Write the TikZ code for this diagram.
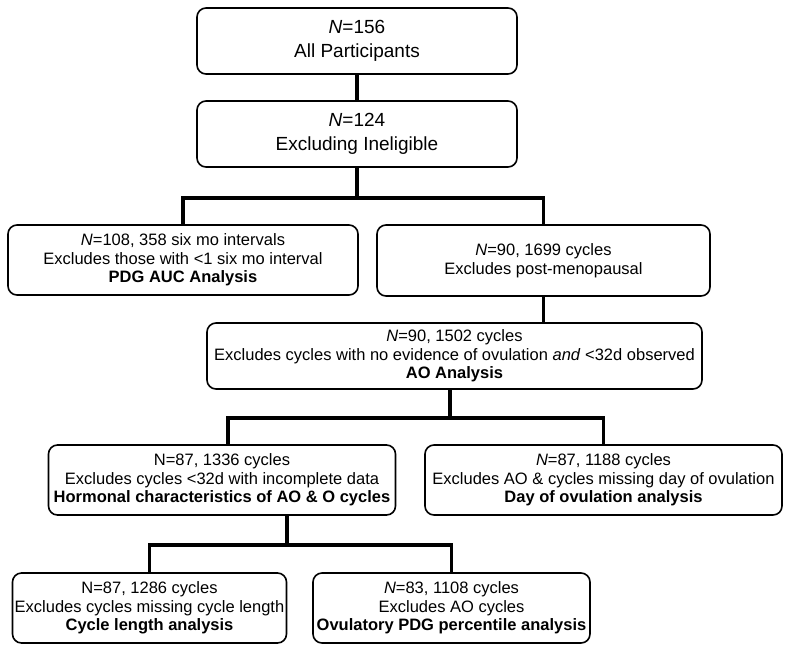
\documentclass[tikz,border=0pt]{standalone}
\usepackage{fontspec}
\setmainfont{Liberation Sans}
\begin{document}
\begin{tikzpicture}
            [x=1pt, y=-1pt,
             myBox/.style={rectangle,
                        rounded corners=9pt,
                        draw,
                        line width=1.6pt,
                        align=center,
                        inner sep=2pt,
                        font=\fontsize{16.5}{18.5}\selectfont},
             bigBox/.style={myBox,
                        font=\fontsize{19}{24.5}\selectfont,
                        minimum width=320pt,
                        minimum height=66pt},
             myLink/.style={line width=3.5pt}]

            \useasboundingbox (0,0) rectangle (789,651);

            \node[bigBox] (allParticipants) at (357,41) {\textit{N}=156\\All Participants};
            \node[bigBox] (excludingIneligible) at (357,134) {\textit{N}=124\\Excluding Ineligible};
            \node[myBox, minimum width=350pt, minimum height=70pt] (pdgAuc) at (183,260) {\textit{N}=108, 358 six mo intervals\\Excludes those with <1 six mo interval\\\textbf{PDG AUC Analysis}};
            \node[myBox, minimum width=333pt, minimum height=71pt] (postMenopausal) at (543.5,260.5) {\textit{N}=90, 1699 cycles\\Excludes post-menopausal};
            \node[myBox, minimum width=495pt, minimum height=66pt] (aoAnalysis) at (454.5,356) {\textit{N}=90, 1502 cycles\\Excludes cycles with no evidence of ovulation \textit{and} <32d observed\\\textbf{AO Analysis}};
            \node[myBox, minimum width=347pt, minimum height=70pt] (hormonal) at (222,480) {N=87, 1336 cycles\\Excludes cycles <32d with incomplete data\\\textbf{Hormonal characteristics of AO \& O cycles}};
            \node[myBox, minimum width=357pt, minimum height=70pt] (dayOvulation) at (603.5,480) {\textit{N}=87, 1188 cycles\\Excludes AO \& cycles missing day of ovulation\\\textbf{Day of ovulation analysis}};
            \node[myBox, minimum width=274pt, minimum height=70pt] (cycleLength) at (149.5,608) {N=87, 1286 cycles\\Excludes cycles missing cycle length\\\textbf{Cycle length analysis}};
            \node[myBox, minimum width=277pt, minimum height=70pt] (ovulatoryPdg) at (451.5,608) {\textit{N}=83, 1108 cycles\\Excludes AO cycles\\\textbf{Ovulatory PDG percentile analysis}};

            \coordinate (split1) at (357,198);
            \coordinate (split2) at (450,418);
            \coordinate (split3) at (287,545);

            \draw [myLink] (allParticipants) to (excludingIneligible);
            \draw [myLink] (excludingIneligible) to (split1);
            \draw [myLink] (pdgAuc.north) |- (split1) -| (postMenopausal.north);
            \draw [myLink] (postMenopausal) to (postMenopausal.south |- aoAnalysis.north);

            \draw [myLink] (aoAnalysis.south -| split2) to (split2);
            \draw [myLink] ([xshift=6pt]hormonal.north) |- (split2) -| (dayOvulation.north);

            \draw [myLink] (hormonal.south -| split3) to (split3);
            \draw [myLink] (cycleLength.north) |- (split3) -| (ovulatoryPdg.north);
        \end{tikzpicture}
\end{document}
